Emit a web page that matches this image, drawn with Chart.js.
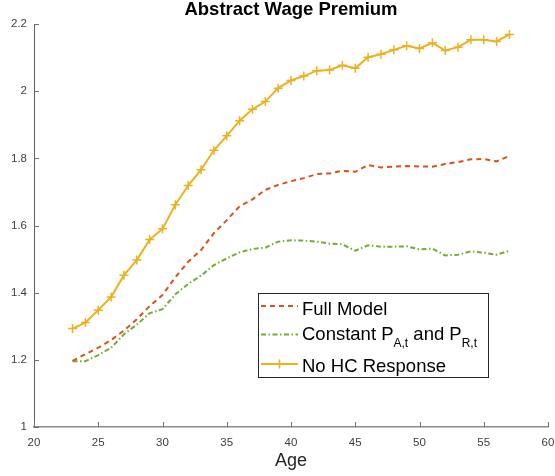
<!DOCTYPE html>
<html>
<head>
<meta charset="utf-8">
<script src="https://cdn.jsdelivr.net/npm/chart.js@4/dist/chart.umd.min.js"></script>
<style>
html,body{margin:0;padding:0;background:#fff;}
canvas{display:block;}
</style>
</head>
<body>
<canvas id="c" width="555" height="476"></canvas>
<script>
const ages = [23,24,25,26,27,28,29,30,31,32,33,34,35,36,37,38,39,40,41,42,43,44,45,46,47,48,49,50,51,52,53,54,55,56,57];
const fullModel = [1.197,1.217,1.236,1.259,1.287,1.321,1.360,1.393,1.446,1.492,1.527,1.577,1.616,1.657,1.678,1.706,1.721,1.732,1.741,1.753,1.755,1.763,1.760,1.780,1.773,1.775,1.777,1.776,1.775,1.783,1.789,1.797,1.798,1.791,1.807];
const constantP = [1.196,1.196,1.214,1.236,1.276,1.305,1.339,1.351,1.395,1.426,1.451,1.482,1.502,1.520,1.530,1.534,1.552,1.556,1.555,1.552,1.546,1.544,1.525,1.541,1.537,1.537,1.538,1.529,1.531,1.511,1.513,1.523,1.519,1.513,1.525];
const noHC = [1.293,1.311,1.348,1.387,1.452,1.497,1.558,1.590,1.662,1.719,1.766,1.824,1.867,1.912,1.946,1.969,2.009,2.032,2.045,2.061,2.063,2.077,2.068,2.101,2.110,2.123,2.135,2.127,2.144,2.121,2.131,2.153,2.153,2.148,2.169];
const xTicks = [20,25,30,35,40,45,50,55,60];
const yTicks = [1,1.2,1.4,1.6,1.8,2,2.2];
const seriesNames = ['Full Model','Constant P','No HC Response'];
const titleText = 'Abstract Wage Premium';
const xLabel = 'Age';

const FONT = "'Liberation Sans', Arial, Helvetica, sans-serif";
const C_OR = '#D95319', C_GR = '#77AC30', C_YE = '#EDB120';

const pts = arr => ages.map((a,i)=>({x:a,y:arr[i]}));

const axisPlugin = {
  id:'axisExtras',
  afterDraw(chart){
    const ctx = chart.ctx, ca = chart.chartArea;
    const xs = chart.scales.x, ys = chart.scales.y;
    ctx.save();
    ctx.strokeStyle = '#707070';
    ctx.lineWidth = 1;
    ctx.beginPath();
    xTicks.forEach(v=>{
      const px = Math.round(xs.getPixelForValue(v))+0.5;
      ctx.moveTo(px, ca.bottom); ctx.lineTo(px, ca.bottom-5);
    });
    yTicks.forEach(v=>{
      const py = Math.round(ys.getPixelForValue(v))+0.5;
      ctx.moveTo(ca.left, py); ctx.lineTo(ca.left+5, py);
    });
    ctx.stroke();
    ctx.restore();

    // legend
    const bx = 258, by = 293, bw = 230, bh = 84;
    ctx.save();
    ctx.fillStyle = '#fff';
    ctx.fillRect(bx, by, bw, bh);
    ctx.strokeStyle = '#262626';
    ctx.lineWidth = 1;
    ctx.strokeRect(bx+0.5, by+0.5, bw, bh);
    const ds = chart.data.datasets;
    const rowsY = [306, 334.5, 364];
    const x0 = 261, x1 = 298;
    ds.forEach((d,i)=>{
      ctx.save();
      ctx.strokeStyle = d.borderColor;
      ctx.lineWidth = d.borderWidth;
      ctx.setLineDash(d.borderDash || []);
      ctx.beginPath(); ctx.moveTo(x0, rowsY[i]); ctx.lineTo(x1, rowsY[i]); ctx.stroke();
      ctx.setLineDash([]);
      if (d.pointRadius > 0) {
        const cx = (x0+x1)/2, r = 4.5;
        ctx.lineWidth = 1.5;
        ctx.beginPath();
        ctx.moveTo(cx-r, rowsY[i]); ctx.lineTo(cx+r, rowsY[i]);
        ctx.moveTo(cx, rowsY[i]-r); ctx.lineTo(cx, rowsY[i]+r);
        ctx.stroke();
      }
      ctx.restore();
    });
    ctx.fillStyle = '#000';
    ctx.textBaseline = 'alphabetic';
    ctx.textAlign = 'left';
    const main = '18.5px ' + FONT, sub = '12px ' + FONT;
    ctx.font = main;
    ctx.fillText(seriesNames[0], 302, 315);
    let x = 302;
    const parts = [[seriesNames[1], main, 340],['A,t', sub, 347],[' and P', main, 340],['R,t', sub, 347]];
    parts.forEach(p=>{ ctx.font = p[1]; ctx.fillText(p[0], x, p[2]); x += ctx.measureText(p[0]).width; });
    ctx.font = main;
    ctx.fillText(seriesNames[2], 302, 371.5);
    ctx.restore();
  }
};

function zeroPad(s){ s.paddingLeft = 0; s.paddingRight = 0; s.paddingTop = 0; s.paddingBottom = 0; }

new Chart(document.getElementById('c'), {
  type:'line',
  data:{
    datasets:[
      {label:seriesNames[0], data:pts(fullModel), borderColor:C_OR, backgroundColor:C_OR, borderWidth:2, borderDash:[5,4], pointRadius:0, tension:0, fill:false},
      {label:'Constant P_A,t and P_R,t', data:pts(constantP), borderColor:C_GR, backgroundColor:C_GR, borderWidth:2, borderDash:[5,2.5,1.5,2.5], pointRadius:0, tension:0, fill:false},
      {label:seriesNames[2], data:pts(noHC), borderColor:C_YE, backgroundColor:C_YE, borderWidth:2, pointStyle:'cross', pointRadius:4.5, pointBorderWidth:1.5, pointBorderColor:C_YE, tension:0, fill:false}
    ]
  },
  options:{
    responsive:false,
    animation:false,
    devicePixelRatio:1,
    layout:{padding:{left:0,right:7,top:0,bottom:0}},
    plugins:{
      legend:{display:false},
      tooltip:{enabled:false},
      title:{display:true, text:titleText, fullSize:false, color:'#000', font:{family:FONT, size:18.5, weight:'bold', lineHeight:1.1}, padding:{top:0,bottom:3.65}}
    },
    scales:{
      x:{
        type:'linear', min:20, max:60,
        grid:{display:false, drawTicks:false},
        border:{display:true, color:'#8a8a8a', width:1.5},
        ticks:{stepSize:5, autoSkip:false, maxRotation:0, padding:9, color:'#404040', font:{family:FONT, size:11.5}},
        title:{display:true, text:xLabel, color:'#262626', font:{family:FONT, size:18}, padding:{top:0,bottom:4.2}},
        afterFit(s){ s.height = 49; zeroPad(s); },
        afterBuildTicks(s){ s.ticks = xTicks.map(v=>({value:v})); }
      },
      y:{
        min:1, max:2.2,
        grid:{display:false, drawTicks:false},
        border:{display:true, color:'#606060', width:1},
        ticks:{stepSize:0.2, padding:7, color:'#404040', font:{family:FONT, size:11.5}, callback:v=>String(Number(v.toFixed(1)))},
        afterFit(s){ s.width = 34; zeroPad(s); },
        afterBuildTicks(s){ s.ticks = yTicks.map(v=>({value:v})); }
      }
    }
  },
  plugins:[axisPlugin]
});
</script>
</body>
</html>
